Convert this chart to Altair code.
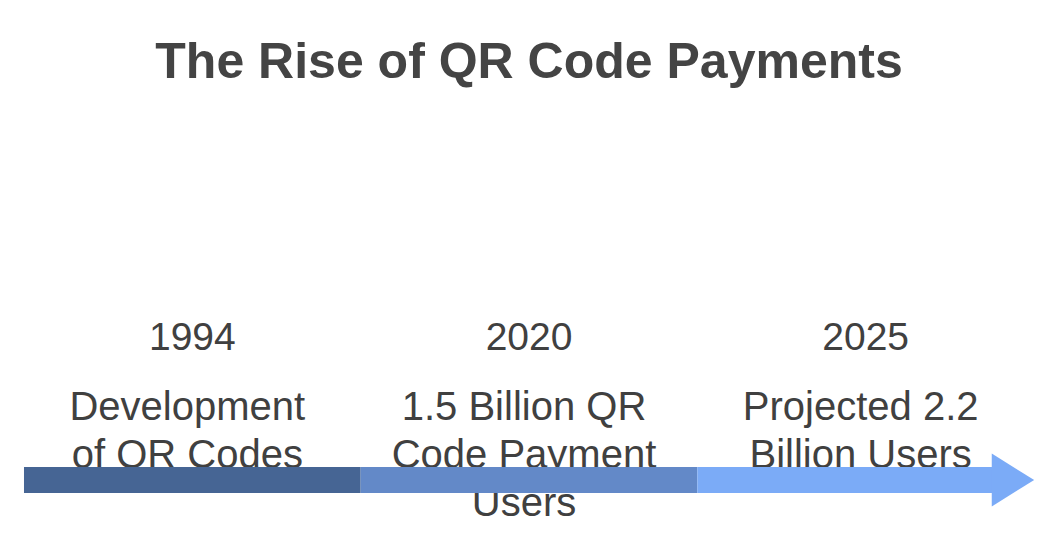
import altair as alt
import pandas as pd

# ---- data ----
years = ["1994", "2020", "2025"]
descriptions = [
    "Development\nof QR Codes",
    "1.5 Billion QR\nCode Payment\nUsers",
    "Projected 2.2\nBillion Users",
]
seg_start = [0.0, 1.0, 2.0]
seg_end = [1.0, 2.0, 2.9]
seg_colors = ["#466594", "#6389C8", "#7BABF7"]
arrow_tip = 3.0
head_len = 0.125

segments = pd.DataFrame({
    "start": seg_start,
    "end": seg_end,
    "color": seg_colors,
})
labels = pd.DataFrame({
    "pos": [s + 0.5 for s in seg_start],
    "year": years,
    "desc": descriptions,
})
head = pd.DataFrame({"pos": [arrow_tip - head_len / 2], "color": [seg_colors[-1]]})

xscale = alt.Scale(domain=[-0.0475, 3.0475], nice=False, zero=False)
xenc = dict(axis=None, scale=xscale)

FONT = "Liberation Sans"
TXT = "#404040"

year_text = alt.Chart(labels).mark_text(
    font=FONT, fontSize=39, color=TXT, align="center", baseline="alphabetic"
).encode(
    x=alt.X("pos:Q", **xenc),
    y=alt.value(242),
    text="year:N",
)

desc_text = alt.Chart(labels).mark_text(
    font=FONT, fontSize=40, color=TXT, align="center", baseline="alphabetic",
    lineBreak="\n", lineHeight=48, dx=-5,
).encode(
    x=alt.X("pos:Q", **xenc),
    y=alt.value(312),
    text="desc:N",
)

bars = alt.Chart(segments).mark_bar(cornerRadius=0).encode(
    x=alt.X("start:Q", **xenc),
    x2="end:Q",
    y=alt.value(359),
    y2=alt.value(385),
    color=alt.Color("color:N", scale=None, legend=None),
)

arrow_head = alt.Chart(head).mark_point(
    shape="M-0.8,-1L0.8,0L-0.8,1Z", filled=True, opacity=1, size=2809, strokeWidth=0
).encode(
    x=alt.X("pos:Q", **xenc),
    y=alt.value(372),
    color=alt.Color("color:N", scale=None, legend=None),
)

chart = alt.layer(year_text, desc_text, bars, arrow_head).properties(
    width=1042,
    height=436,
    padding={"left": 0, "right": 0, "top": 100, "bottom": 0},
    autosize=alt.AutoSizeParams(type="none"),
    title=alt.TitleParams(
        "The Rise of QR Code Payments",
        font=FONT, fontSize=50, fontWeight="bold", color="#444444",
        anchor="middle", offset=20,
    ),
).configure(
    background="white",
    view=alt.ViewConfig(stroke=None, strokeWidth=0),
)

chart.save("out.html", embed_options={"renderer": "svg", "actions": False})
